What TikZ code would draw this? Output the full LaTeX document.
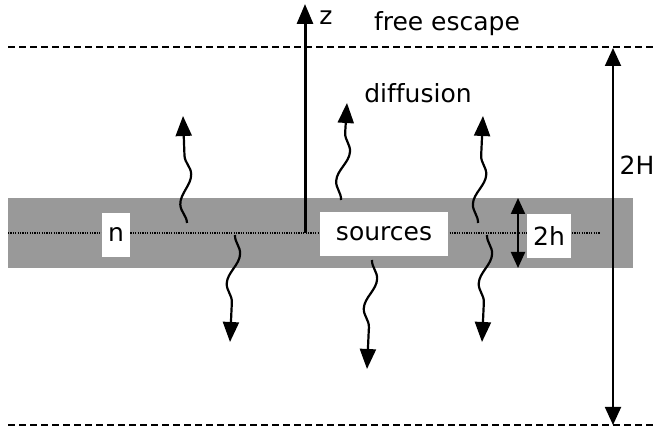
\documentclass[tikz,border=0pt]{standalone}
\usepackage{fontspec}
\setmainfont[Ligatures=NoCommon]{DejaVu Sans}
\usetikzlibrary{arrows.meta, decorations.pathmorphing, positioning}

\tikzset{
  lbl/.style={font=\fontsize{12.5}{15}\selectfont, inner sep=1pt},
  whitebox/.style={lbl, fill=white, minimum height=22pt, inner xsep=3pt},
  bigtip/.style={-{Triangle[length=10pt,width=8pt]}},
  wave/.style={bigtip, line width=1.1pt, decorate,
    decoration={snake, segment length=30pt, amplitude=3pt, post length=9pt}},
  boundary/.style={line width=1pt, dash pattern=on 3.5pt off 2pt},
  midline/.style={line width=0.6pt, dash pattern=on 0.6pt off 0.6pt}
}

\begin{document}
\begin{tikzpicture}[x=0.5pt, y=-0.5pt]
\useasboundingbox (0,0) rectangle (658,431);

% boundaries and source layer
\draw[boundary] (8,47) coordinate (topL) -- (655,47) coordinate (topR);
\draw[boundary] (8,425) coordinate (botL) -- (655,425) coordinate (botR);
\fill[black!40] (8,198) rectangle (633,268);
\draw[midline] (8,233) coordinate (midL) -- (600,233) coordinate (midR);

% labels in the layer
\node[whitebox, minimum width=13pt] (n) at (116,235) {n};
\node[whitebox, minimum width=64pt] (sources) at (384,234) {sources};
\node[whitebox, minimum width=20pt] (hlbl) at (549,236) {2h};

% z axis
\coordinate (z0) at (305,233);
\coordinate (z1) at (305,4);
\draw[bigtip, line width=1.5pt] (z0) -- (z1);
\node[lbl] (zlbl) at (326,18) {z};
\node[lbl] (escape) at (447,24) {free escape};
\node[lbl] (diffusion) at (418,93) {diffusion};

% thickness arrows
\coordinate (H0) at (613,48);
\coordinate (H1) at (613,425);
\draw[{Triangle[length=9pt,width=8pt]}-{Triangle[length=9pt,width=8pt]}, line width=0.9pt] (H0) -- (H1);
\node[lbl] (Hlbl) at (637,165) {2H};
\coordinate (h0) at (518,198);
\coordinate (h1) at (518,268);
\draw[{Triangle[length=8pt,width=7pt]}-{Triangle[length=8pt,width=7pt]}, line width=1.1pt] (h0) -- (h1);

% diffusing particles
\foreach \name/\xa/\ya/\xb/\yb in {a/187/223/183/116, b/235/235/230/342, c/341/200/347/103,
    d/372/260/367/369, e/478/223/483/116, f/487/235/482/342} {
  \coordinate (\name0) at (\xa,\ya);
  \coordinate (\name1) at (\xb,\yb);
  \draw[wave] (\name0) -- (\name1);
}
\end{tikzpicture}
\end{document}
